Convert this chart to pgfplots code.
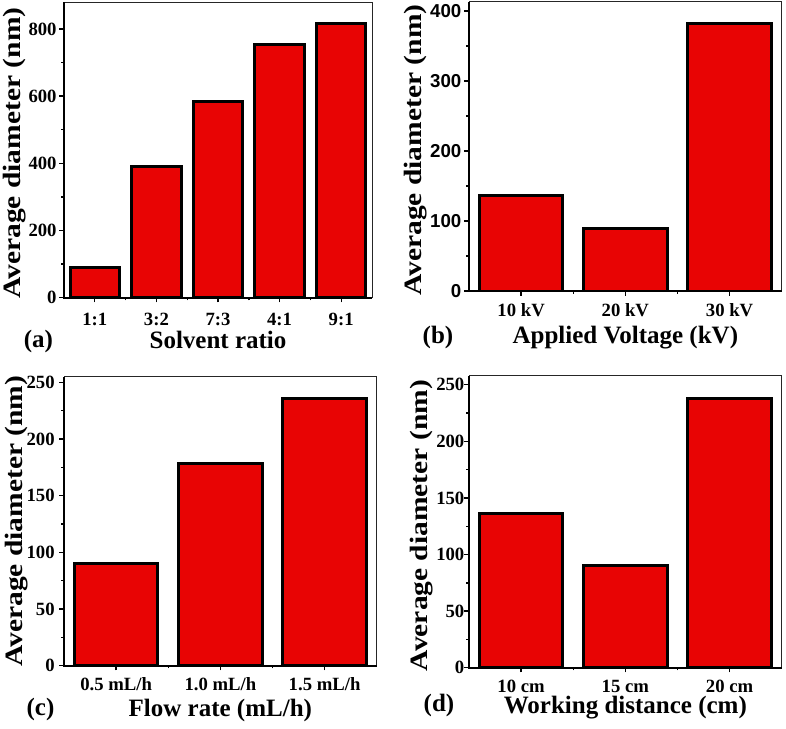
\documentclass[border=0pt]{standalone}
\usepackage{fontspec}
\setmainfont{Liberation Serif}
\newfontfamily\sansb{Liberation Sans}
\newfontfamily\ylabfont[FakeStretch=1.18]{Liberation Serif}
\usepackage{pgfplots}
\pgfplotsset{compat=1.18}
\definecolor{barred}{RGB}{232,4,4}
\newcommand{\tickfont}{\bfseries\fontsize{9.35}{10}\selectfont}
\newcommand{\labfont}{\bfseries\fontsize{12.5}{14}\selectfont}
\pgfplotsset{
  panel/.style={
    scale only axis,
    anchor=south west,
    ybar, bar width=0.8,
    ymin=0,
    axis line style={line width=0.5pt, black!85},
    tick align=outside,
    major tick length=2.3pt, minor tick length=1.3pt,
    every tick/.style={black, line width=0.7pt},
    xtick pos=bottom, ytick pos=left,
    /pgf/number format/assume math mode=true,
    tick label style={font=\tickfont},
    xticklabel style={anchor=base},
    yticklabel style={anchor=east, inner sep=0pt},
    xlabel style={font=\labfont, anchor=base},
    ylabel style={font=\ylabfont\bfseries\fontsize{12.5}{14}\selectfont, anchor=center},
    ylabel={Average diameter (nm)},
    clip mode=individual,
  },
  barstyle/.style={fill=barred, draw=black, line width=1.5pt},
}
\begin{document}
\begin{tikzpicture}
\path[use as bounding box] (0,0) rectangle (393pt,-364pt);
% (a)
\begin{axis}[panel,
  at={(32pt,-148.85pt)}, width=154pt, height=147.85pt,
  xmin=-0.5, xmax=4.5, ymax=880,
  xtick={0,1,2,3,4}, xticklabels={1:1,3:2,7:3,4:1,9:1},
  minor xtick={0.5,1.5,2.5,3.5},
  ytick={0,200,400,600,800}, yticklabels={0,200,400,600,800},
  minor ytick={100,300,500,700},
  xticklabel style={yshift=-11.35pt},
  yticklabel style={xshift=-1.2pt},
  xlabel={Solvent ratio},
  xlabel style={at={(axis description cs:0.5,-0.171)}},
  ylabel style={at={(axis description cs:-0.162,0.489)}},
]
\addplot[barstyle] coordinates {(0,91) (1,389) (2,584) (3,753) (4,815)};
\draw[line width=1pt, black] (rel axis cs:0,1) -- (rel axis cs:0,0) -- (rel axis cs:1,0);
\node[font=\labfont, anchor=base] at (axis description cs:-0.0828,-0.169) {(a)};
\end{axis}
% (b)
\begin{axis}[panel,
  at={(234.5pt,-145.5pt)}, width=156.35pt, height=144.65pt,
  xmin=-0.5, xmax=2.5, ymax=413,
  xtick={0,1,2}, xticklabels={10 kV,20 kV,30 kV},
  minor xtick={0.5,1.5},
  ytick={0,100,200,300,400}, yticklabels={0,100,200,300,400},
  minor ytick={50,150,250,350},
  xticklabel style={yshift=-10.2pt},
  yticklabel style={xshift=-1.35pt, font=\sansb\bfseries\fontsize{9.35}{10}\selectfont},
  xlabel={Applied Voltage (kV)},
  xlabel style={at={(axis description cs:0.5,-0.183)}},
  ylabel style={at={(axis description cs:-0.1695,0.487)}},
]
\addplot[barstyle] coordinates {(0,137) (1,89.5) (2,382.5)};
\draw[line width=1pt, black] (rel axis cs:0,1) -- (rel axis cs:0,0) -- (rel axis cs:1,0);
\node[font=\labfont, anchor=base] at (axis description cs:-0.0991,-0.181) {(b)};
\end{axis}
% (c)
\begin{axis}[panel,
  at={(32pt,-332.85pt)}, width=156.35pt, height=144.5pt,
  xmin=-0.5, xmax=2.5, ymax=255,
  xtick={0,1,2}, xticklabels={0.5 mL/h,1.0 mL/h,1.5 mL/h},
  minor xtick={0.5,1.5},
  ytick={0,50,100,150,200,250}, yticklabels={0,50,100,150,200,250},
  minor ytick={25,75,125,175,225},
  xticklabel style={yshift=-10.2pt},
  yticklabel style={xshift=-2.2pt},
  xlabel={Flow rate (mL/h)},
  xlabel style={at={(axis description cs:0.5,-0.1758)}},
  ylabel style={at={(axis description cs:-0.151,0.5)}},
]
\addplot[barstyle] coordinates {(0,90) (1,178) (2,235.6)};
\draw[line width=1pt, black] (rel axis cs:0,1) -- (rel axis cs:0,0) -- (rel axis cs:1,0);
\node[font=\labfont, anchor=base] at (axis description cs:-0.0752,-0.1706) {(c)};
\end{axis}
% (d)
\begin{axis}[panel,
  at={(234.5pt,-333.85pt)}, width=156.35pt, height=146pt,
  xmin=-0.5, xmax=2.5, ymax=258,
  xtick={0,1,2}, xticklabels={10 cm,15 cm,20 cm},
  minor xtick={0.5,1.5},
  ytick={0,50,100,150,200,250}, yticklabels={0,50,100,150,200,250},
  minor ytick={25,75,125,175,225},
  xticklabel style={yshift=-10.2pt},
  yticklabel style={xshift=0.15pt},
  xlabel={Working distance (cm)},
  xlabel style={at={(axis description cs:0.5,-0.157)}},
  ylabel style={at={(axis description cs:-0.152,0.487)}},
]
\addplot[barstyle] coordinates {(0,136) (1,90) (2,238)};
\draw[line width=1pt, black] (rel axis cs:0,1) -- (rel axis cs:0,0) -- (rel axis cs:1,0);
\node[font=\labfont, anchor=base] at (axis description cs:-0.0959,-0.149) {(d)};
\end{axis}
\end{tikzpicture}
\end{document}
